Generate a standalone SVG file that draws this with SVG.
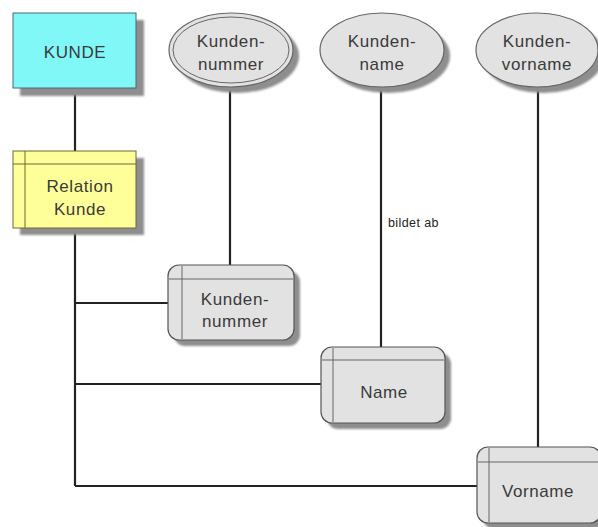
<svg xmlns="http://www.w3.org/2000/svg" width="598" height="527" viewBox="0 0 598 527">
  <style>
    .lbl { font-family: "Liberation Sans", Arial, sans-serif; font-size: 17px; letter-spacing: 0.6px; fill: #3a3a3a; text-anchor: middle; }
    .small { font-family: "Liberation Sans", Arial, sans-serif; font-size: 12.5px; letter-spacing: 0.4px; fill: #222; }
    .shadow { fill: #8e8e8e; filter: url(#soft); }
    .edge { stroke: #222; stroke-width: 2.2; fill: none; }
    .attr { fill: #e2e2e2; stroke: #555; stroke-width: 1.2; }
    .inner { stroke: #666; stroke-width: 1; fill: none; }
  </style>
  <defs>
    <filter id="soft" x="-10%" y="-10%" width="120%" height="120%">
      <feGaussianBlur stdDeviation="0.8"/>
    </filter>
  </defs>
  <rect width="598" height="527" fill="#ffffff"/>

  <!-- connectors -->
  <g id="connectors">
    <line class="edge" x1="75" y1="88" x2="75" y2="151"/>
    <line class="edge" x1="75" y1="228" x2="75" y2="486"/>
    <line class="edge" x1="75" y1="303" x2="168" y2="303"/>
    <line class="edge" x1="75" y1="384" x2="321" y2="384"/>
    <line class="edge" x1="75" y1="486" x2="477" y2="486"/>
    <line class="edge" x1="230" y1="87" x2="230" y2="265"/>
    <line class="edge" x1="381" y1="87" x2="381" y2="347"/>
    <line class="edge" x1="538" y1="87" x2="538" y2="447"/>
    <text class="small" x="388" y="227">bildet ab</text>
  </g>

  <!-- entity -->
  <g id="kunde">
    <rect class="shadow" x="20" y="20" width="124" height="76"/>
    <rect x="13" y="13" width="123" height="75" fill="#80f8f8" stroke="#4a6a6a" stroke-width="1"/>
    <text class="lbl" x="75" y="58">KUNDE</text>
  </g>

  <!-- relation -->
  <g id="relation-kunde">
    <rect class="shadow" x="20" y="158" width="124" height="77"/>
    <rect x="13" y="151" width="123" height="77" fill="#ffff99" stroke="#6a6a3a" stroke-width="1"/>
    <line x1="25" y1="151" x2="25" y2="228" stroke="#6a6a3a" stroke-width="1"/>
    <line x1="13" y1="164" x2="136" y2="164" stroke="#6a6a3a" stroke-width="1"/>
    <text class="lbl" x="80" y="192">Relation</text>
    <text class="lbl" x="80" y="215">Kunde</text>
  </g>

  <!-- attribute ellipses -->
  <g id="ell-kundennummer">
    <ellipse class="shadow" cx="237" cy="56" rx="62" ry="37"/>
    <ellipse cx="231" cy="50" rx="62" ry="37" fill="#e2e2e2" stroke="#666" stroke-width="1.2"/>
    <ellipse cx="231" cy="50" rx="58" ry="33" fill="none" stroke="#666" stroke-width="1"/>
    <text class="lbl" x="231" y="47">Kunden-</text>
    <text class="lbl" x="231" y="70">nummer</text>
  </g>
  <g id="ell-kundenname">
    <ellipse class="shadow" cx="388" cy="56" rx="62" ry="37"/>
    <ellipse cx="382" cy="50" rx="62" ry="37" fill="#e2e2e2" stroke="#666" stroke-width="1.2"/>
    <text class="lbl" x="382" y="47">Kunden-</text>
    <text class="lbl" x="382" y="70">name</text>
  </g>
  <g id="ell-kundenvorname">
    <ellipse class="shadow" cx="543" cy="56" rx="61" ry="37"/>
    <ellipse cx="537" cy="50" rx="61" ry="37" fill="#e2e2e2" stroke="#666" stroke-width="1.2"/>
    <text class="lbl" x="537" y="47">Kunden-</text>
    <text class="lbl" x="537" y="70">vorname</text>
  </g>

  <!-- table columns -->
  <g id="col-kundennummer">
    <rect class="shadow" x="174" y="271" width="126" height="75" rx="11"/>
    <rect class="attr" x="168" y="265" width="126" height="75" rx="11"/>
    <line class="inner" x1="182" y1="266" x2="182" y2="339"/>
    <line class="inner" x1="169" y1="279" x2="293" y2="279"/>
    <text class="lbl" x="235" y="305">Kunden-</text>
    <text class="lbl" x="235" y="327">nummer</text>
  </g>
  <g id="col-name">
    <rect class="shadow" x="327" y="353" width="124" height="76" rx="11"/>
    <rect class="attr" x="321" y="347" width="124" height="76" rx="11"/>
    <line class="inner" x1="333" y1="348" x2="333" y2="422"/>
    <line class="inner" x1="322" y1="360" x2="444" y2="360"/>
    <text class="lbl" x="384" y="398">Name</text>
  </g>
  <g id="col-vorname">
    <rect class="shadow" x="483" y="453" width="124" height="76" rx="11"/>
    <rect class="attr" x="477" y="447" width="124" height="76" rx="11"/>
    <line class="inner" x1="489" y1="448" x2="489" y2="522"/>
    <line class="inner" x1="478" y1="462" x2="598" y2="462"/>
    <text class="lbl" x="538" y="497">Vorname</text>
  </g>
</svg>
